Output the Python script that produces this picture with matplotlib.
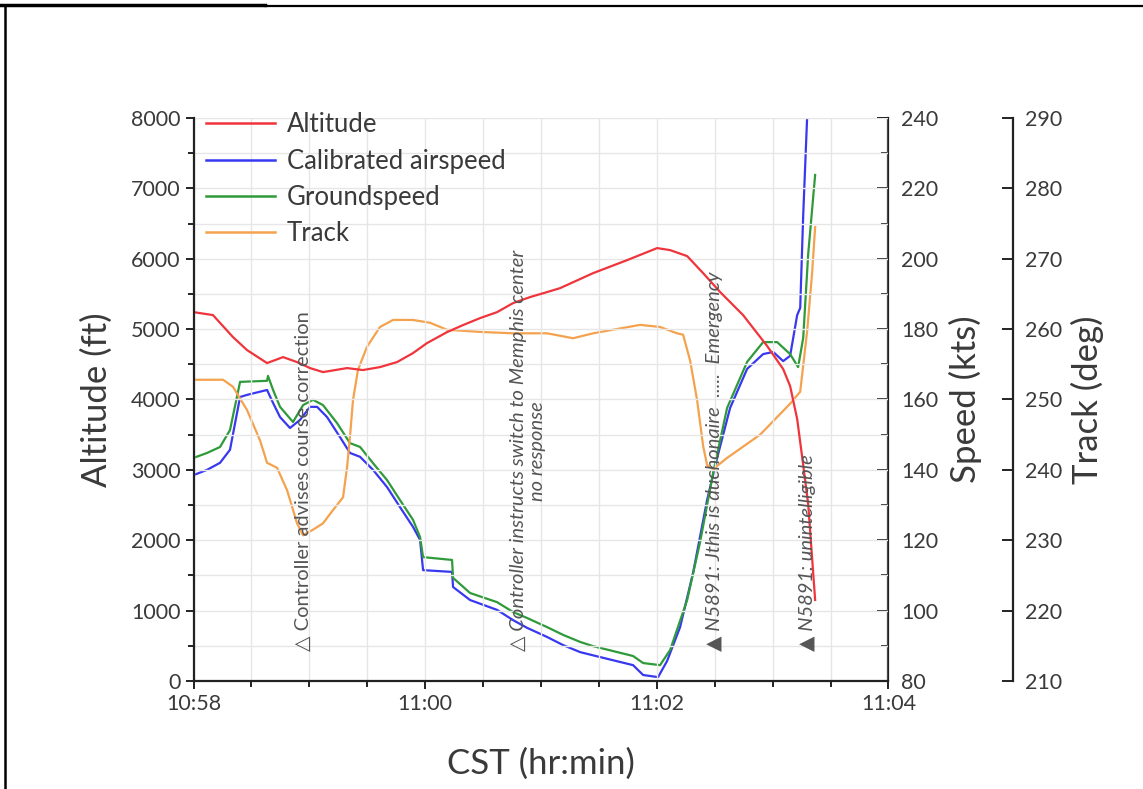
import matplotlib
matplotlib.use("Agg")
import matplotlib.pyplot as plt
from matplotlib.lines import Line2D
from matplotlib.ticker import MultipleLocator, FixedLocator

# time in minutes after 10:58 CST
alt_t = [0.00, 0.168, 0.341, 0.462, 0.635, 0.773, 0.894, 1.006, 1.118, 1.326, 1.463, 1.610,
         1.757, 1.895, 2.016, 2.189, 2.327, 2.474, 2.621, 2.759, 2.906, 3.053, 3.165, 3.450,
         3.744, 4.003, 4.115, 4.262, 4.400, 4.547, 4.745, 4.953, 5.091, 5.151, 5.212, 5.264,
         5.307, 5.367]
altitude = [5241, 5199, 4886, 4702, 4517, 4602, 4531, 4446, 4389, 4446, 4418, 4460,
            4531, 4659, 4801, 4957, 5057, 5156, 5241, 5369, 5455, 5526, 5582, 5795,
            5980, 6151, 6122, 6037, 5795, 5526, 5199, 4759, 4432, 4190, 3722, 3068,
            2514, 1151]

cas_t = [0.000, 0.117, 0.229, 0.315, 0.402, 0.462, 0.635, 0.687, 0.747, 0.833, 0.920, 1.006,
         1.067, 1.153, 1.265, 1.351, 1.438, 1.550, 1.671, 1.783, 1.895, 1.956, 1.982, 2.232,
         2.241, 2.388, 2.621, 2.759, 2.880, 3.053, 3.191, 3.338, 3.510, 3.795, 3.882, 4.011,
         4.089, 4.201, 4.313, 4.434, 4.521, 4.633, 4.780, 4.918, 5.005, 5.091, 5.151, 5.212,
         5.238, 5.264, 5.298]
cas = [138.5, 140.0, 142.0, 145.7, 160.7, 161.3, 162.7, 159.0, 155.0, 151.9, 154.2, 157.9,
       157.9, 155.0, 149.3, 144.8, 143.7, 140.0, 135.1, 129.4, 123.8, 120.1, 111.5, 111.0,
       106.7, 103.0, 100.2, 97.3, 95.1, 92.5, 90.2, 88.2, 86.8, 84.5, 81.7, 81.1,
       85.7, 95.3, 110.7, 131.4, 143.4, 157.6, 168.7, 172.9, 173.5, 170.9, 172.4, 184.0,
       186.0, 212.4, 240.3]

gs_t = [0.000, 0.117, 0.229, 0.315, 0.402, 0.635, 0.643, 0.687, 0.747, 0.859, 0.946, 1.032,
        1.118, 1.239, 1.351, 1.438, 1.550, 1.671, 1.783, 1.895, 1.956, 1.982, 2.232, 2.241,
        2.388, 2.621, 2.759, 2.880, 3.053, 3.191, 3.338, 3.450, 3.795, 3.882, 4.028, 4.115,
        4.262, 4.374, 4.486, 4.607, 4.780, 4.918, 5.039, 5.151, 5.220, 5.264, 5.307, 5.367]
groundspeed = [143.4, 144.8, 146.5, 151.3, 165.0, 165.3, 166.7, 162.7, 157.9, 153.6, 158.4, 159.9,
               158.4, 153.3, 147.6, 146.5, 141.9, 137.1, 131.4, 125.8, 120.9, 115.2, 114.4, 109.3,
               105.0, 102.4, 99.6, 97.9, 95.3, 93.1, 91.1, 89.9, 87.1, 85.1, 84.5, 88.8,
               103.0, 119.5, 139.1, 157.6, 170.7, 176.3, 176.3, 172.9, 169.2, 177.5, 201.3, 223.8]

trk_t = [0.000, 0.255, 0.341, 0.462, 0.574, 0.635, 0.721, 0.808, 0.894, 0.946, 1.032, 1.118,
         1.205, 1.291, 1.326, 1.351, 1.377, 1.420, 1.498, 1.610, 1.723, 1.895, 2.042, 2.189,
         2.474, 2.759, 3.053, 3.277, 3.450, 3.856, 4.028, 4.175, 4.227, 4.288, 4.348, 4.400,
         4.434, 4.486, 4.607, 4.892, 5.151, 5.238, 5.298, 5.341, 5.367]
track = [252.8, 252.8, 251.8, 248.5, 244.2, 241.0, 240.3, 237.1, 232.4, 230.7, 231.5, 232.4,
         234.3, 236.1, 240.4, 244.7, 249.9, 254.2, 257.5, 260.3, 261.3, 261.3, 260.9, 259.9,
         259.6, 259.4, 259.4, 258.7, 259.4, 260.6, 260.3, 259.4, 259.2, 255.5, 249.9, 243.4,
         240.7, 240.1, 241.7, 245.0, 249.4, 251.1, 259.7, 268.0, 274.5]

x_ticks = [0, 2, 4, 6]
x_labels = ["10:58", "11:00", "11:02", "11:04"]

# (time, label) for the radio calls
events_t = [0.95, 2.885, 4.50, 5.30]
events_txt = ["\u25b3 Controller advises course correction",
              "\u25b3 Controller instructs switch to Memphis center\nno response",
              "\u25b2 N5891: Jthis is duchonaire  .....  Emergency",
              "\u25b2 N5891: unintelligible"]

FONT = ["Lato", "DejaVu Sans"]
plt.rcParams["font.family"] = FONT
TXT = "#3a3a3a"
SP = "#222222"

fig = plt.figure(figsize=(11.43, 7.89), dpi=100)
ax = fig.add_axes([0.1693, 0.1369, 0.6080, 0.7136])
ax2 = ax.twinx()
ax3 = ax.twinx()

c_alt, c_cas, c_gs, c_trk = "#f0343c", "#3838f0", "#2f9a3a", "#f5a24e"
l1, = ax.plot(alt_t, altitude, color=c_alt, lw=1.6, label="Altitude")
l2, = ax2.plot(cas_t, cas, color=c_cas, lw=1.6, label="Calibrated airspeed")
l3, = ax2.plot(gs_t, groundspeed, color=c_gs, lw=1.6, label="Groundspeed")
l4, = ax3.plot(trk_t, track, color=c_trk, lw=1.6, label="Track")

ax.set_xlim(0, 6)
ax.set_ylim(0, 8000)
ax2.set_ylim(80, 240)
ax3.set_ylim(210, 290)

ax.xaxis.set_major_locator(FixedLocator(x_ticks))
ax.set_xticklabels(x_labels)
ax.xaxis.set_minor_locator(MultipleLocator(0.5))
ax.yaxis.set_major_locator(MultipleLocator(1000))
ax.yaxis.set_minor_locator(MultipleLocator(500))
ax2.yaxis.set_major_locator(MultipleLocator(20))
ax2.yaxis.set_minor_locator(MultipleLocator(10))
ax3.yaxis.set_major_locator(MultipleLocator(10))

ax.grid(True, which="both", color="#e6e6e6", lw=1.0)
ax.set_axisbelow(True)

for a in (ax, ax2, ax3):
    for s in a.spines.values():
        s.set_visible(False)
ax.spines["left"].set_visible(True)
ax.spines["bottom"].set_visible(True)
ax2.spines["right"].set_visible(True)
ax3.spines["right"].set_visible(True)
ax3.spines["right"].set_position(("axes", 1.1785))
for s in (ax.spines["left"], ax.spines["bottom"], ax2.spines["right"], ax3.spines["right"]):
    s.set_color(SP)
    s.set_linewidth(1.6)

ax.tick_params(axis="both", which="major", direction="out", length=6, width=1.4,
               colors=SP, labelcolor=TXT, labelsize=15.5)
ax.tick_params(axis="both", which="minor", direction="out", length=4, width=1.4, colors=SP)
ax2.tick_params(axis="y", which="major", direction="in", length=8, width=1.4,
                colors=SP, labelcolor=TXT, labelsize=15.5, pad=9)
ax2.tick_params(axis="y", which="minor", direction="in", length=5, width=1.4, colors=SP)
ax3.tick_params(axis="y", which="major", direction="in", length=8, width=1.4,
                colors=SP, labelcolor=TXT, labelsize=15.5, pad=9)

ax.set_xlabel("CST (hr:min)", fontsize=25, color=TXT, labelpad=24)
ax.set_ylabel("Altitude (ft)", fontsize=25, color=TXT, labelpad=13)
ax2.set_ylabel("Speed (kts)", fontsize=25, color=TXT, labelpad=8)
ax3.set_ylabel("Track (deg)", fontsize=25, color=TXT, labelpad=6)

# radio call annotations
for i, (t, txt) in enumerate(zip(events_t, events_txt)):
    ax.text(t, 420, txt, rotation=90, ha="center", va="bottom", fontsize=14.5,
            color="#555555", style="italic" if i > 0 else "normal",
            multialignment="center", family=FONT, zorder=5, linespacing=1.15)

leg = ax.legend(handles=[l1, l2, l3, l4], loc="upper left",
                bbox_to_anchor=(0.018, 1.01), frameon=False, fontsize=18.5,
                handlelength=2.7, handletextpad=0.45, labelspacing=0.44,
                borderpad=0, borderaxespad=0)
for t in leg.get_texts():
    t.set_color(TXT)
for h in leg.get_lines():
    h.set_linewidth(1.8)
ax.set_zorder(3)
ax.patch.set_visible(False)

# frame edges of the original image
fig.add_artist(Line2D([0, 265 / 1143], [1 - 5 / 789, 1 - 5 / 789], color="black", lw=2.5,
                      transform=fig.transFigure))
fig.add_artist(Line2D([265 / 1143, 1], [1 - 6 / 789, 1 - 6 / 789], color="black", lw=1.6,
                      transform=fig.transFigure))
fig.add_artist(Line2D([5 / 1143, 5 / 1143], [0, 1 - 5 / 789], color="black", lw=1.8,
                      transform=fig.transFigure))

fig.savefig("out.png", dpi=100)
